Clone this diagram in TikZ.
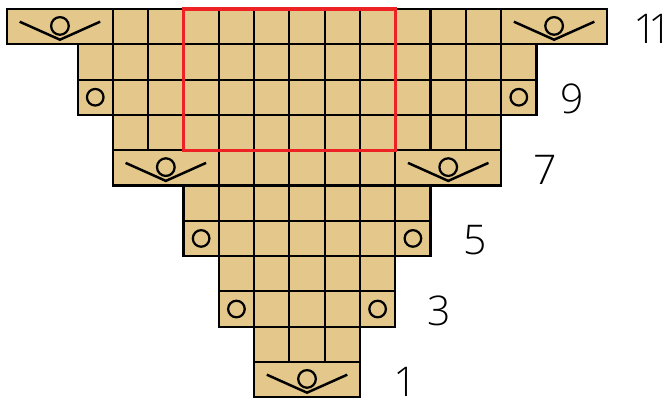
\documentclass[tikz,border=0pt]{standalone}
\usepackage{fontspec}
\usetikzlibrary{positioning}
\newfontfamily\numfont[Numbers=Proportional]{Open Sans Light}
\definecolor{wool}{RGB}{227,199,139}
\definecolor{repeatred}{RGB}{237,34,36}

\tikzstyle{cell} = [draw, line width=1.75pt, fill=wool, minimum size=1cm, inner sep=0pt, outer sep=0pt]
\tikzstyle{yo} = [cell, path picture={\draw[line width=1.8pt] (path picture bounding box.center) circle (0.235);}]
\tikzstyle{inc} = [cell, minimum width=3cm, path picture={
    \draw[line width=2pt] ([shift={(-1.14,0.14)}]path picture bounding box.center) -- ++(1.14,-0.51) -- ++(1.14,0.51);
    \draw[line width=1.8pt] ([yshift=0.02cm]path picture bounding box.center) circle (0.25);}]
\tikzstyle{rownum} = [text width=1cm, text centered, inner sep=0pt, yshift=-0.06cm, font=\numfont\fontsize{33}{33}\selectfont]
\tikzstyle{repeatbox} = [draw=repeatred, line width=2.6pt]

\begin{document}
\begin{tikzpicture}
\useasboundingbox (-0.198,-0.16) rectangle (18.67,11.255);
% row 1
\node[inc] (c1-7) at (8.5,0.5) {};
% row 2
\foreach \k in {7,...,9} \node[cell] (c2-\k) at (\k+0.5,1.5) {};
% row 3
\node[yo] (c3-6) at (6.5,2.5) {};
\foreach \k in {7,...,9} \node[cell] (c3-\k) at (\k+0.5,2.5) {};
\node[yo] (c3-10) at (10.5,2.5) {};
% row 4
\foreach \k in {6,...,10} \node[cell] (c4-\k) at (\k+0.5,3.5) {};
% row 5
\node[yo] (c5-5) at (5.5,4.5) {};
\foreach \k in {6,...,10} \node[cell] (c5-\k) at (\k+0.5,4.5) {};
\node[yo] (c5-11) at (11.5,4.5) {};
% row 6
\foreach \k in {5,...,11} \node[cell] (c6-\k) at (\k+0.5,5.5) {};
% row 7
\node[inc] (c7-3) at (4.5,6.5) {};
\foreach \k in {6,...,10} \node[cell] (c7-\k) at (\k+0.5,6.5) {};
\node[inc] (c7-11) at (12.5,6.5) {};
% row 8
\foreach \k in {3,...,13} \node[cell] (c8-\k) at (\k+0.5,7.5) {};
% row 9
\node[yo] (c9-2) at (2.5,8.5) {};
\foreach \k in {3,...,13} \node[cell] (c9-\k) at (\k+0.5,8.5) {};
\node[yo] (c9-14) at (14.5,8.5) {};
% row 10
\foreach \k in {2,...,14} \node[cell] (c10-\k) at (\k+0.5,9.5) {};
% row 11
\node[inc] (c11-0) at (1.5,10.5) {};
\foreach \k in {3,...,13} \node[cell] (c11-\k) at (\k+0.5,10.5) {};
\node[inc] (c11-14) at (15.5,10.5) {};

% pattern repeat
\draw[repeatbox] (c11-5.north west) rectangle (c8-10.south east);

% row numbers
\node[rownum, right=0.75cm of c1-7] (n1) {1};
\node[rownum, right=0.75cm of c3-10] (n3) {3};
\node[rownum, right=0.75cm of c5-11] (n5) {5};
\node[rownum, right=0.75cm of c7-11] (n7) {7};
\node[rownum, right=0.5cm of c9-14] (n9) {9};
\node[rownum, right=0.75cm of c11-14] (n11) {11};
\end{tikzpicture}
\end{document}
